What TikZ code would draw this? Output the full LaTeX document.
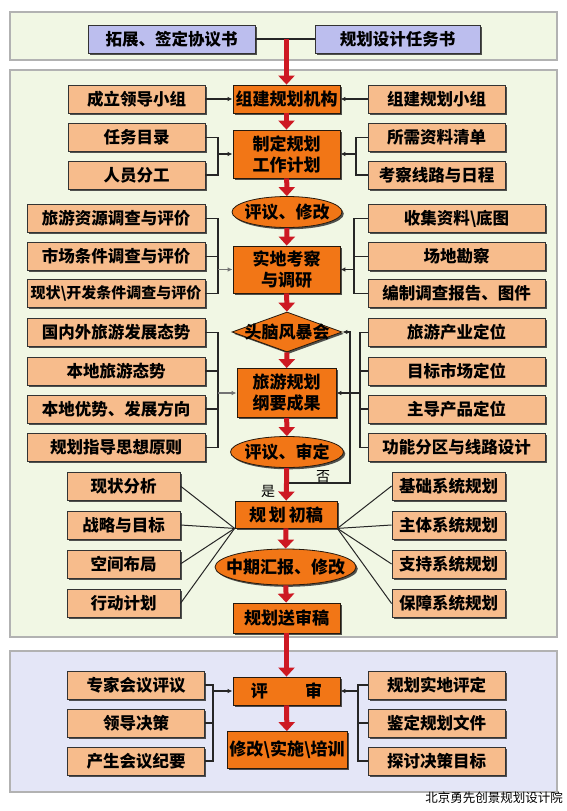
\documentclass[tikz,border=0pt]{standalone}
\usepackage{fontspec}
\newfontfamily\cjk{Noto Sans CJK SC}
\usetikzlibrary{shapes.geometric,shadows,arrows.meta}

\definecolor{bandgreen}{RGB}{241,247,228}
\definecolor{bandlav}{RGB}{228,230,247}
\definecolor{lavbox}{RGB}{188,190,238}
\definecolor{tanbox}{RGB}{247,188,140}
\definecolor{coreorange}{RGB}{242,118,22}
\definecolor{flowred}{RGB}{205,25,35}

\begin{document}
\begin{tikzpicture}
    [x=1pt, y=-1pt,
    band/.style={draw=black!30, line width=1.2pt},
    card/.style={draw=black!80, line width=.8pt, minimum height=28, inner sep=0pt,
        font=\cjk\bfseries\fontsize{16.5}{18}\selectfont,
        drop shadow={shadow xshift=1.8pt, shadow yshift=-1.8pt, opacity=.85, fill=black!80}},
    topcard/.style={card, fill=lavbox},
    narrow/.style={card, fill=tanbox, minimum width=137},
    wide/.style={card, fill=tanbox, minimum width=178},
    fan/.style={card, fill=tanbox, minimum width=113},
    core/.style={card, fill=coreorange, draw=black!80!brown, minimum width=107, align=center,
        font=\cjk\bfseries\fontsize{17}{21}\selectfont},
    oval/.style={ellipse, draw=black!80!brown, fill=coreorange, line width=.8pt, inner sep=0pt,
        minimum width=110, minimum height=31,
        drop shadow={shadow xshift=1.8pt, shadow yshift=-1.8pt, opacity=.85, fill=black!80}},
    gem/.style={diamond, draw=black!80!brown, fill=coreorange, line width=.8pt, inner sep=0pt,
        aspect=2.75, minimum width=110, minimum height=40,
        drop shadow={shadow xshift=1.8pt, shadow yshift=-1.8pt, opacity=.85, fill=black!80}},
    word/.style={inner sep=0pt, font=\cjk\bfseries\fontsize{17}{20}\selectfont},
    wire/.style={draw=black!85, line width=1.2pt},
    feed/.style={wire, -{Latex[length=5pt,width=4.5pt]}},
    flow/.style={draw=flowred, line width=5pt, -{Triangle[length=9pt,width=16pt]}},
    lbl/.style={inner sep=0pt, font=\cjk\fontsize{14}{14}\selectfont}]

    \useasboundingbox (0,0) rectangle (567,811);

    % three bands
    \draw[band, fill=bandgreen] (10,12) rectangle (557,60);
    \draw[band, fill=bandgreen] (10,70) rectangle (557,637);
    \draw[band, fill=bandlav] (10,651) rectangle (557,792);

    % top row
    \node[topcard, minimum width=167] (agree) at (171.5,39) {拓展、签定协议书};
    \node[topcard, minimum width=165] (brief) at (397.5,39) {规划设计任务书};
    \draw[wire] (agree) -- (brief);
    \coordinate (start) at (286.5,39);

    % main column
    \node[core] (org) at (286.5,99) {组建规划机构};
    \node[core, minimum height=48] (plan) at (286.5,154) {制定规划\\工作计划};
    \node[oval] (rev1) at (287,212) {};
    \node[word] (rev1txt) at (rev1) {评议、修改};
    \node[core, minimum height=47] (field) at (286.5,269.5) {实地考察\\与调研};
    \node[gem] (storm) at (287,332) {};
    \node[word] (stormtxt) at (storm) {头脑风暴会};
    \node[core, minimum width=99, minimum height=49] (outline) at (286.5,393) {旅游规划\\纲要成果};
    \node[oval, minimum width=113] (rev2) at (287,452) {};
    \node[word] (rev2txt) at (rev2) {评议、审定};
    \node[core, minimum width=102, minimum height=27] (draft) at (286,514.5) {规\hspace{3pt}划\hspace{3pt}初稿};
    \node[oval, minimum width=141, minimum height=36] (midrep) at (285.5,567) {};
    \node[word] (midreptxt) at (midrep) {中期汇报、修改};
    \node[core, minimum height=30] (final) at (286.5,618) {规划送审稿};
    \node[core] (judge) at (286.5,691) {评\hspace{2.2em}审};
    \node[core, minimum width=120, minimum height=37] (impl) at (287,750) {修改\textbackslash 实施\textbackslash 培训};

    % left column
    \node[narrow] (lead) at (136.5,99) {成立领导小组};
    \node[narrow] (task) at (136.5,137.5) {任务目录};
    \node[narrow] (staff) at (136.5,175) {人员分工};
    \node[wide] (res) at (116,218.5) {旅游资源调查与评价};
    \node[wide] (mkt) at (116,256.5) {市场条件调查与评价};
    \node[wide, font=\cjk\bfseries\fontsize{15}{18}\selectfont] (cur) at (116,293.5) {现状\textbackslash 开发条件调查与评价};
    \node[wide] (trend) at (116,332.5) {国内外旅游发展态势};
    \node[wide] (local) at (116,371) {本地旅游态势};
    \node[wide] (adv) at (116,409) {本地优势、发展方向};
    \node[wide] (idea) at (116,447.5) {规划指导思想原则};
    \node[fan] (sa) at (123.5,486) {现状分析};
    \node[fan] (sb) at (123.5,525) {战略与目标};
    \node[fan] (sc) at (123.5,564) {空间布局};
    \node[fan] (sd) at (123.5,603.5) {行动计划};

    % right column
    \node[narrow] (team) at (436.5,99) {组建规划小组};
    \node[narrow] (need) at (436.5,137.5) {所需资料清单};
    \node[narrow] (route) at (436.5,175) {考察线路与日程};
    \node[wide, minimum width=177] (coll) at (456.5,218.5) {收集资料\textbackslash 底图};
    \node[wide, minimum width=177] (site) at (456.5,256.5) {场地勘察};
    \node[wide, minimum width=177] (rept) at (456.5,293.5) {编制调查报告、图件};
    \node[wide, minimum width=177] (ind) at (456.5,332.5) {旅游产业定位};
    \node[wide, minimum width=177] (tgt) at (456.5,371) {目标市场定位};
    \node[wide, minimum width=177] (prod) at (456.5,409) {主导产品定位};
    \node[wide, minimum width=177] (zone) at (456.5,447.5) {功能分区与线路设计};
    \node[fan] (ta) at (448.5,486) {基础系统规划};
    \node[fan] (tb) at (448.5,525) {主体系统规划};
    \node[fan] (tc) at (448.5,564) {支持系统规划};
    \node[fan] (td) at (448.5,603.5) {保障系统规划};

    % review band
    \node[narrow] (expert) at (136,685) {专家会议评议};
    \node[narrow] (lead2) at (136,723) {领导决策};
    \node[narrow] (minutes) at (136,761) {产生会议纪要};
    \node[narrow] (check) at (436.5,685) {规划实地评定};
    \node[narrow] (doc) at (436.5,723) {鉴定规划文件};
    \node[narrow] (goal) at (436.5,761) {探讨决策目标};

    % feeders into the main column
    \draw[feed] (lead) -- (org);
    \draw[feed] (team) -- (org);

    \coordinate (ja) at (218,154);
    \draw[wire] (task.east) -- (task.east -| ja) |- (staff.east);
    \draw[feed] (ja) -- (plan.west);
    \coordinate (ka) at (356,154);
    \draw[wire] (need.west) -- (need.west -| ka) |- (route.west);
    \draw[feed] (ka) -- (plan.east);

    \coordinate (jb) at (218,269.5);
    \draw[wire] (res.east) -- (res.east -| jb) |- (cur.east);
    \draw[wire] (mkt.east) -- (mkt.east -| jb);
    \draw[feed, draw=black!55] (jb) -- (field.west);
    \coordinate (kb) at (354,269.5);
    \draw[wire] (coll.west) -- (coll.west -| kb) |- (rept.west);
    \draw[wire] (site.west) -- (site.west -| kb);
    \draw[feed] (kb) -- (field.east);

    \coordinate (jc) at (218,393);
    \draw[wire] (trend.east) -- (trend.east -| jc) |- (idea.east);
    \draw[wire] (local.east) -- (local.east -| jc);
    \draw[wire] (adv.east) -- (adv.east -| jc);
    \draw[feed, draw=black!55] (jc) -- (outline.west);
    \coordinate (kc) at (360,393);
    \draw[wire] (ind.west) -- (ind.west -| kc) |- (zone.west);
    \draw[wire] (tgt.west) -- (tgt.west -| kc);
    \draw[wire] (prod.west) -- (prod.west -| kc);
    \draw[feed] (kc) -- (outline.east);

    % the "no" loop back to the brainstorm
    \coordinate (nofork) at (287,483);
    \coordinate (noturn) at (350,483);
    \draw[feed] (nofork) -- (noturn) |- (storm.east);

    % fans round the first draft
    \foreach \n in {sa,sb,sc,sd}
        \draw[wire, line width=1pt] (\n.east) -- (draft.south west);
    \foreach \n in {ta,tb,tc,td}
        \draw[wire, line width=1pt] (\n.west) -- (draft.south east);

    % review feeders
    \coordinate (jd) at (213,691);
    \draw[wire] (expert.east) -- (expert.east -| jd) |- (minutes.east);
    \draw[wire] (lead2.east) -- (lead2.east -| jd);
    \draw[feed] (jd) -- (judge.west);
    \coordinate (kd) at (358,691);
    \draw[wire] (check.west) -- (check.west -| kd) |- (goal.west);
    \draw[wire] (doc.west) -- (doc.west -| kd);
    \draw[feed] (kd) -- (judge.east);

    % red flow arrows
    \draw[flow] (start) -- (org);
    \draw[flow] (org) -- (plan);
    \draw[flow] (plan) -- (rev1);
    \draw[flow] (rev1) -- (field);
    \draw[flow] (field) -- (storm);
    \draw[flow] (storm) -- (outline);
    \draw[flow] (outline) -- (rev2);
    \draw[flow] (rev2) -- (draft);
    \draw[flow] (draft) -- (midrep);
    \draw[flow] (midrep) -- (final);
    \draw[flow] (final) -- (judge);
    \draw[flow] (judge) -- (impl);

    \node[lbl] (yes) at (268,491) {是};
    \node[lbl] (no) at (323,477) {否};

    \node[inner sep=0pt, anchor=east, font=\cjk\fontsize{12.5}{13}\selectfont] (firm) at (563,798) {北京勇先创景规划设计院};
\end{tikzpicture}
\end{document}
